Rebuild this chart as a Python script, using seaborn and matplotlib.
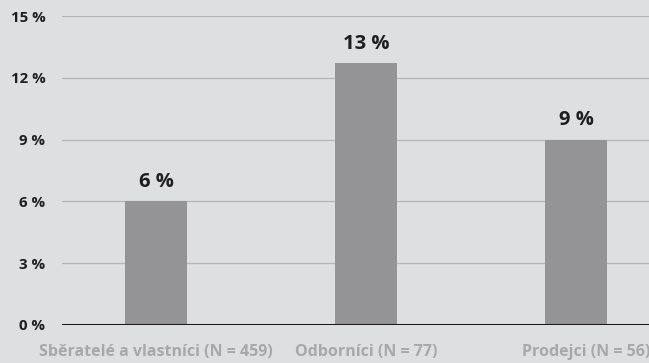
import matplotlib
matplotlib.use("Agg")
import matplotlib.pyplot as plt
import matplotlib.transforms as mtransforms
import seaborn as sns
import pandas as pd

# Survey groups and share of respondents (%)
categories = ["Sběratelé a vlastníci (N = 459)", "Odborníci (N = 77)", "Prodejci (N = 56)"]
values = [6.0, 12.7, 9.0]
y_ticks = [0, 3, 6, 9, 12, 15]

bg = "#dedfe1"
bar_color = "#949497"
grid_color = "#b5b6b9"
label_dark = "#1e1e20"
label_gray = "#a7a8ab"

sns.set_theme(style="white")
plt.rcParams["font.family"] = ["Open Sans", "DejaVu Sans"]

df = pd.DataFrame({"group": categories, "value": values})

fig = plt.figure(figsize=(6.49, 3.63), dpi=100, facecolor=bg)
ax = fig.add_axes([62 / 649, (363 - 325) / 363, 1 - 62 / 649, (325 - 16) / 363])
ax.set_facecolor(bg)

sns.barplot(data=df, x="group", y="value", color=bar_color, width=0.295,
            saturation=1, linewidth=0, edgecolor="none", ax=ax, zorder=3)

ax.set_xlim(-0.448, 2.348)
ax.set_ylim(0, 15)
ax.set_yticks(y_ticks)
ax.set_yticklabels([f"{t} %" for t in y_ticks], fontsize=10.8, fontweight="bold",
                   color=label_dark)
ax.tick_params(axis="y", length=0, pad=12)
ax.tick_params(axis="x", length=0, pad=14)
xlabels = ax.get_xticklabels()
for lbl in xlabels:
    lbl.set_fontsize(11.5)
    lbl.set_fontweight("bold")
    lbl.set_color(label_gray)
# keep the last category label flush with the right edge
xlabels[-1].set_transform(xlabels[-1].get_transform() +
                          mtransforms.ScaledTranslation(0.1, 0, fig.dpi_scale_trans))

for t in y_ticks[1:]:
    ax.axhline(t, color=grid_color, lw=0.9, zorder=1)
ax.axhline(0, color="#1a1a1a", lw=2.2, zorder=4)

for sp in ax.spines.values():
    sp.set_visible(False)
ax.set_xlabel("")
ax.set_ylabel("")

for i, v in enumerate(values):
    ax.text(i, v + 0.45, f"{round(v)} %", ha="center", va="bottom",
            fontsize=14.5, fontweight="bold", color=label_dark)

fig.savefig("out.png", dpi=100, facecolor=bg)
